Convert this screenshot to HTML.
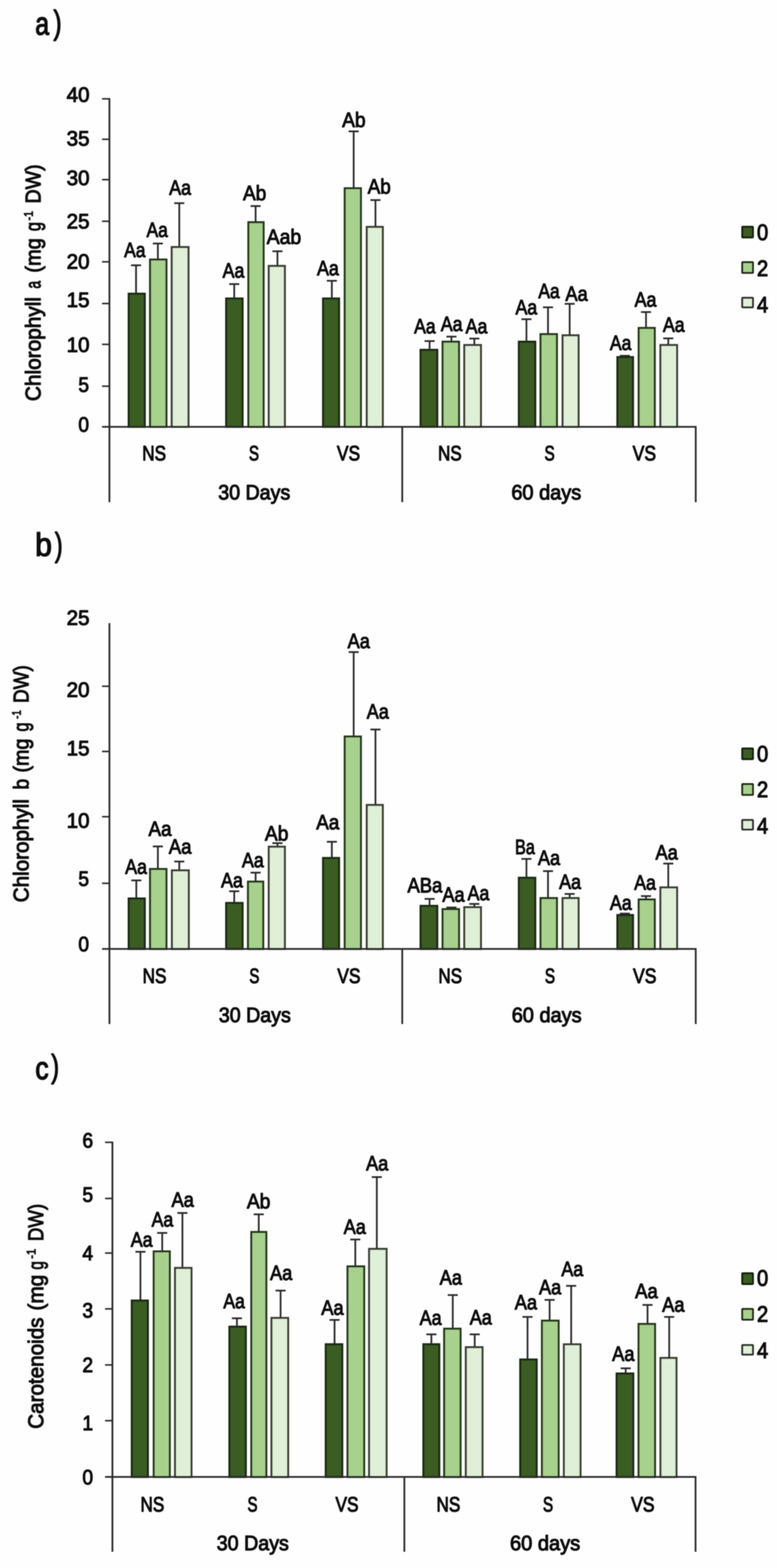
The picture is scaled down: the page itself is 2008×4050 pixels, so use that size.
<!DOCTYPE html>
<html lang="en">
<head>
<meta charset="utf-8">
<title>Chlorophyll a, chlorophyll b and carotenoids</title>
<style>
html,body{margin:0;padding:0;background:#fff;}
body{width:2008px;height:4050px;overflow:hidden;}
svg{display:block;}
text{font-family:"Liberation Sans",sans-serif;fill:#0c0c0c;stroke:#0c0c0c;stroke-width:2.4px;stroke-linejoin:round;}
text.t{stroke-width:3.2px;}
text.y,text.k{stroke-width:2.5px;}
tspan.s{stroke-width:2px;}
</style>
</head>
<body>
<svg width="2008" height="4050" viewBox="0 0 2008 4050">
<defs><filter id="soft" x="0" y="0" width="2008" height="4050" filterUnits="userSpaceOnUse"><feGaussianBlur stdDeviation="0.9"/></filter></defs>
<rect width="2008" height="4050" fill="#fefefe"/>
<g filter="url(#soft)">
<g id="chart-a">
<text class="t"><tspan x="91.3" y="88.5" font-size="82.2" textLength="35.6" lengthAdjust="spacingAndGlyphs">a</tspan><tspan x="138.3" y="86.8" font-size="84.5" textLength="20.8" lengthAdjust="spacingAndGlyphs">)</tspan></text>
<rect x="332.6" y="758.6" width="41.5" height="343.9" fill="#3b5b24" stroke="#1c2a13" stroke-width="5.3"/>
<rect x="387.8" y="670.4" width="42.3" height="432.1" fill="#a7d18d" stroke="#27381d" stroke-width="5.3"/>
<rect x="443.8" y="638.2" width="43.3" height="464.2" fill="#e0efd7" stroke="#3a4136" stroke-width="5.3"/>
<rect x="584.5" y="771.0" width="42.4" height="331.5" fill="#3b5b24" stroke="#1c2a13" stroke-width="5.3"/>
<rect x="641.9" y="574.0" width="39.3" height="528.5" fill="#a7d18d" stroke="#27381d" stroke-width="5.3"/>
<rect x="694.6" y="686.9" width="41.5" height="415.6" fill="#e0efd7" stroke="#3a4136" stroke-width="5.3"/>
<rect x="834.9" y="771.0" width="41.3" height="331.5" fill="#3b5b24" stroke="#1c2a13" stroke-width="5.3"/>
<rect x="890.9" y="486.3" width="41.7" height="616.1" fill="#a7d18d" stroke="#27381d" stroke-width="5.3"/>
<rect x="947.9" y="586.1" width="41.3" height="516.4" fill="#e0efd7" stroke="#3a4136" stroke-width="5.3"/>
<rect x="1086.9" y="903.6" width="43.1" height="198.8" fill="#3b5b24" stroke="#1c2a13" stroke-width="5.3"/>
<rect x="1143.8" y="882.6" width="42.4" height="219.8" fill="#a7d18d" stroke="#27381d" stroke-width="5.3"/>
<rect x="1199.9" y="891.2" width="42.9" height="211.2" fill="#e0efd7" stroke="#3a4136" stroke-width="5.3"/>
<rect x="1340.9" y="882.6" width="42.3" height="219.8" fill="#3b5b24" stroke="#1c2a13" stroke-width="5.3"/>
<rect x="1396.9" y="863.1" width="42.3" height="239.3" fill="#a7d18d" stroke="#27381d" stroke-width="5.3"/>
<rect x="1453.9" y="866.1" width="41.3" height="236.3" fill="#e0efd7" stroke="#3a4136" stroke-width="5.3"/>
<rect x="1595.5" y="922.4" width="40.4" height="180.1" fill="#3b5b24" stroke="#1c2a13" stroke-width="5.3"/>
<rect x="1650.6" y="847.1" width="41.4" height="255.3" fill="#a7d18d" stroke="#27381d" stroke-width="5.3"/>
<rect x="1706.7" y="891.2" width="43.0" height="211.2" fill="#e0efd7" stroke="#3a4136" stroke-width="5.3"/>
<path d="M351.6 757V685.2M338.6 685.2H364.6M408 668.7V629M395 629H421M463.3 636.6V524.8M450.3 524.8H476.3M605.3 769.4V733.8M592.3 733.8H618.3M660.6 572.4V532.3M647.6 532.3H673.6M717 685.2V649M704 649H730M857.6 769.4V725.3M844.6 725.3H870.6M914 484.7V339.3M901 339.3H927M970.3 584.5V516.8M957.3 516.8H983.3M1110.2 902V881M1097.2 881H1123.2M1166.6 881V869.5M1153.6 869.5H1179.6M1225.8 889.6V874.5M1212.8 874.5H1238.8M1360.5 881V824.4M1347.5 824.4H1373.5M1416.2 861.5V793.8M1403.2 793.8H1429.2M1472.2 864.5V784.8M1459.2 784.8H1485.2M1601.7 919H1627.7M1669.5 845.5V805.9M1656.5 805.9H1682.5M1727 889.6V874M1714 874H1740" fill="none" stroke="#2b2b2b" stroke-width="4.5"/>
<path d="M282.8 253.5V1297M1039.5 1102.5V1297M1798 1102.5V1297M263.8 1102.5H1800" fill="none" stroke="#2b2b2b" stroke-width="4.6"/>
<path d="M263.8 255.2H282.8M263.8 359.8H282.8M263.8 463.9H282.8M263.8 571.6H282.8M263.8 676.3H282.8M263.8 784H282.8M263.8 889.4H282.8M263.8 997.5H282.8" fill="none" stroke="#2b2b2b" stroke-width="4.0"/>
<text x="231.2" y="262.8" font-size="54.5" text-anchor="end" textLength="59.0" lengthAdjust="spacingAndGlyphs" class="k">40</text>
<text x="231.2" y="375.6" font-size="54.5" text-anchor="end" textLength="59.0" lengthAdjust="spacingAndGlyphs" class="k">35</text>
<text x="231.2" y="477.9" font-size="54.5" text-anchor="end" textLength="59.0" lengthAdjust="spacingAndGlyphs" class="k">30</text>
<text x="231.2" y="589.7" font-size="54.5" text-anchor="end" textLength="59.0" lengthAdjust="spacingAndGlyphs" class="k">25</text>
<text x="231.2" y="694.2" font-size="54.5" text-anchor="end" textLength="59.0" lengthAdjust="spacingAndGlyphs" class="k">20</text>
<text x="231.2" y="793.2" font-size="54.5" text-anchor="end" textLength="59.0" lengthAdjust="spacingAndGlyphs" class="k">15</text>
<text x="231.2" y="908.5" font-size="54.5" text-anchor="end" textLength="59.0" lengthAdjust="spacingAndGlyphs" class="k">10</text>
<text x="230.1" y="1011.9" font-size="54.5" text-anchor="end" textLength="27.5" lengthAdjust="spacingAndGlyphs" class="k">5</text>
<text x="230.1" y="1114.5" font-size="54.5" text-anchor="end" textLength="27.5" lengthAdjust="spacingAndGlyphs" class="k">0</text>
<text x="321.1" y="664.3" font-size="54.5" textLength="54.7" lengthAdjust="spacingAndGlyphs">Aa</text>
<text x="378.8" y="612.3" font-size="54.5" textLength="55.0" lengthAdjust="spacingAndGlyphs">Aa</text>
<text x="437.3" y="503.3" font-size="54.5" textLength="56.5" lengthAdjust="spacingAndGlyphs">Aa</text>
<text x="575.3" y="716.6" font-size="54.5" textLength="56.2" lengthAdjust="spacingAndGlyphs">Aa</text>
<text x="628.0" y="517.1" font-size="54.5" textLength="60.1" lengthAdjust="spacingAndGlyphs">Ab</text>
<text x="689.3" y="630.3" font-size="54.5" textLength="89.0" lengthAdjust="spacingAndGlyphs">Aab</text>
<text x="819.3" y="711.3" font-size="54.5" textLength="56.5" lengthAdjust="spacingAndGlyphs">Aa</text>
<text x="884.3" y="328.1" font-size="54.5" textLength="60.5" lengthAdjust="spacingAndGlyphs">Ab</text>
<text x="950.3" y="500.0" font-size="54.5" textLength="59.5" lengthAdjust="spacingAndGlyphs">Ab</text>
<text x="1070.3" y="860.8" font-size="54.5" textLength="55.5" lengthAdjust="spacingAndGlyphs">Aa</text>
<text x="1139.3" y="854.8" font-size="54.5" textLength="56.0" lengthAdjust="spacingAndGlyphs">Aa</text>
<text x="1203.3" y="860.8" font-size="54.5" textLength="56.2" lengthAdjust="spacingAndGlyphs">Aa</text>
<text x="1332.3" y="811.7" font-size="54.5" textLength="56.0" lengthAdjust="spacingAndGlyphs">Aa</text>
<text x="1391.3" y="770.3" font-size="54.5" textLength="55.1" lengthAdjust="spacingAndGlyphs">Aa</text>
<text x="1461.3" y="776.6" font-size="54.5" textLength="57.5" lengthAdjust="spacingAndGlyphs">Aa</text>
<text x="1576.3" y="904.3" font-size="54.5" textLength="55.2" lengthAdjust="spacingAndGlyphs">Aa</text>
<text x="1640.0" y="791.6" font-size="54.5" textLength="56.6" lengthAdjust="spacingAndGlyphs">Aa</text>
<text x="1713.2" y="857.3" font-size="54.5" textLength="56.1" lengthAdjust="spacingAndGlyphs">Aa</text>
<text x="367.4" y="1189.0" font-size="54.5" textLength="61.7" lengthAdjust="spacingAndGlyphs" class="k">NS</text>
<text x="643.2" y="1189.0" font-size="54.5" textLength="26.1" lengthAdjust="spacingAndGlyphs" class="k">S</text>
<text x="870.8" y="1189.0" font-size="54.5" textLength="59.7" lengthAdjust="spacingAndGlyphs" class="k">VS</text>
<text x="1132" y="1189.0" font-size="54.5" textLength="61.1" lengthAdjust="spacingAndGlyphs" class="k">NS</text>
<text x="1407" y="1189.0" font-size="54.5" textLength="26.5" lengthAdjust="spacingAndGlyphs" class="k">S</text>
<text x="1635" y="1189.0" font-size="54.5" textLength="60.3" lengthAdjust="spacingAndGlyphs" class="k">VS</text>
<text x="564" y="1289.5" font-size="54.5" textLength="186.0" lengthAdjust="spacingAndGlyphs" class="k">30 Days</text>
<text x="1321.4" y="1289.5" font-size="54.5" textLength="180.8" lengthAdjust="spacingAndGlyphs" class="k">60 days</text>
<text transform="translate(104.5 0) rotate(-90)" font-size="56" class="y"><tspan x="-1036" y="0" textLength="268.8" lengthAdjust="spacingAndGlyphs">Chlorophyll</tspan> <tspan x="-745.5" y="0" textLength="19.9" lengthAdjust="spacingAndGlyphs">a</tspan> <tspan x="-704.3" y="0" textLength="88.9" lengthAdjust="spacingAndGlyphs">(mg</tspan> <tspan x="-596.9" y="0" textLength="23.5" lengthAdjust="spacingAndGlyphs">g</tspan><tspan x="-569.5" y="-20" font-size="32" textLength="24.4" lengthAdjust="spacingAndGlyphs" class="s">-1</tspan> <tspan x="-525.5" y="0" textLength="100.7" lengthAdjust="spacingAndGlyphs">DW)</tspan></text>
<rect x="1918.2" y="585.7" width="27.6" height="27.6" rx="1.5" fill="#3b5b24" stroke="#17230f" stroke-width="5"/>
<text x="1956.2" y="619.8" font-size="56.5" textLength="29" lengthAdjust="spacingAndGlyphs" class="k">0</text>
<rect x="1918.2" y="677.2" width="27.6" height="27.6" rx="1.5" fill="#a7d18d" stroke="#202c18" stroke-width="5"/>
<text x="1956.2" y="713.2" font-size="56.5" textLength="29" lengthAdjust="spacingAndGlyphs" class="k">2</text>
<rect x="1918.2" y="769.3" width="27.6" height="24.5" rx="1.5" fill="#e0efd7" stroke="#2c3029" stroke-width="5"/>
<text x="1956.2" y="807.2" font-size="56.5" textLength="29" lengthAdjust="spacingAndGlyphs" class="k">4</text>
</g>
<g id="chart-b">
<text class="t"><tspan x="91.1" y="1436.1" font-size="83.4" textLength="43.1" lengthAdjust="spacingAndGlyphs">b</tspan><tspan x="141.8" y="1435.6" font-size="84.5" textLength="20.0" lengthAdjust="spacingAndGlyphs">)</tspan></text>
<rect x="332.6" y="2320.7" width="41.5" height="130.3" fill="#3b5b24" stroke="#1c2a13" stroke-width="5.3"/>
<rect x="387.8" y="2244.6" width="42.3" height="206.4" fill="#a7d18d" stroke="#27381d" stroke-width="5.3"/>
<rect x="444.4" y="2248.1" width="43.4" height="202.9" fill="#e0efd7" stroke="#3a4136" stroke-width="5.3"/>
<rect x="584.5" y="2332.3" width="42.4" height="118.7" fill="#3b5b24" stroke="#1c2a13" stroke-width="5.3"/>
<rect x="640.9" y="2277.2" width="39.3" height="173.8" fill="#a7d18d" stroke="#27381d" stroke-width="5.3"/>
<rect x="694.6" y="2187.0" width="41.5" height="264.0" fill="#e0efd7" stroke="#3a4136" stroke-width="5.3"/>
<rect x="834.9" y="2216.1" width="41.3" height="234.9" fill="#3b5b24" stroke="#1c2a13" stroke-width="5.3"/>
<rect x="890.9" y="1902.4" width="41.7" height="548.6" fill="#a7d18d" stroke="#27381d" stroke-width="5.3"/>
<rect x="947.9" y="2079.2" width="41.3" height="371.9" fill="#e0efd7" stroke="#3a4136" stroke-width="5.3"/>
<rect x="1086.9" y="2339.8" width="43.1" height="111.2" fill="#3b5b24" stroke="#1c2a13" stroke-width="5.3"/>
<rect x="1143.8" y="2348.3" width="42.4" height="102.7" fill="#a7d18d" stroke="#27381d" stroke-width="5.3"/>
<rect x="1199.9" y="2343.3" width="42.9" height="107.7" fill="#e0efd7" stroke="#3a4136" stroke-width="5.3"/>
<rect x="1340.9" y="2267.2" width="42.3" height="183.8" fill="#3b5b24" stroke="#1c2a13" stroke-width="5.3"/>
<rect x="1396.9" y="2319.7" width="42.3" height="131.3" fill="#a7d18d" stroke="#27381d" stroke-width="5.3"/>
<rect x="1453.9" y="2319.7" width="41.3" height="131.3" fill="#e0efd7" stroke="#3a4136" stroke-width="5.3"/>
<rect x="1595.5" y="2363.5" width="40.4" height="87.5" fill="#3b5b24" stroke="#1c2a13" stroke-width="5.3"/>
<rect x="1650.6" y="2323.3" width="41.4" height="127.7" fill="#a7d18d" stroke="#27381d" stroke-width="5.3"/>
<rect x="1706.7" y="2292.2" width="43.0" height="158.8" fill="#e0efd7" stroke="#3a4136" stroke-width="5.3"/>
<path d="M352.3 2319V2274M339.3 2274H365.3M408 2242.9V2186.2M395 2186.2H421M463.3 2246.4V2225.3M450.3 2225.3H476.3M605.3 2330.7V2302M592.3 2302H618.3M660.6 2275.5V2254M647.6 2254H673.6M717 2185.3V2177.8M704 2177.8H730M857.6 2214.4V2174.3M844.6 2174.3H870.6M914 1900.7V1684.2M901 1684.2H927M970.3 2077.5V1884.2M957.3 1884.2H983.3M1110.2 2338.2V2321.7M1097.2 2321.7H1123.2M1153.6 2344H1179.6M1225.8 2341.7V2334.7M1212.8 2334.7H1238.8M1360.5 2265.5V2218.4M1347.5 2218.4H1373.5M1416.2 2318V2250M1403.2 2250H1429.2M1472.2 2318V2309M1459.2 2309H1485.2M1601.7 2359.7H1627.7M1669.5 2321.7V2314.6M1656.5 2314.6H1682.5M1727 2290.6V2230.4M1714 2230.4H1740" fill="none" stroke="#2b2b2b" stroke-width="4.5"/>
<path d="M282.8 1609.5V2645M1039.5 2451V2645M1798 2451V2645M263.8 2451H1800" fill="none" stroke="#2b2b2b" stroke-width="4.6"/>
<path d="M263.8 1772.4H282.8M263.8 1941H282.8M263.8 2109.5H282.8M263.8 2281.6H282.8" fill="none" stroke="#2b2b2b" stroke-width="4.0"/>
<text x="231.2" y="1613.7" font-size="54.5" text-anchor="end" textLength="59.0" lengthAdjust="spacingAndGlyphs" class="k">25</text>
<text x="231.2" y="1800.2" font-size="54.5" text-anchor="end" textLength="59.0" lengthAdjust="spacingAndGlyphs" class="k">20</text>
<text x="231.2" y="1950.6" font-size="54.5" text-anchor="end" textLength="59.0" lengthAdjust="spacingAndGlyphs" class="k">15</text>
<text x="231.2" y="2137.9" font-size="54.5" text-anchor="end" textLength="59.0" lengthAdjust="spacingAndGlyphs" class="k">10</text>
<text x="230.1" y="2287.5" font-size="54.5" text-anchor="end" textLength="27.5" lengthAdjust="spacingAndGlyphs" class="k">5</text>
<text x="230.1" y="2456.6" font-size="54.5" text-anchor="end" textLength="27.5" lengthAdjust="spacingAndGlyphs" class="k">0</text>
<text x="323.6" y="2256.7" font-size="54.5" textLength="56.2" lengthAdjust="spacingAndGlyphs">Aa</text>
<text x="383.8" y="2159.3" font-size="54.5" textLength="59.6" lengthAdjust="spacingAndGlyphs">Aa</text>
<text x="436.3" y="2204.6" font-size="54.5" textLength="58.5" lengthAdjust="spacingAndGlyphs">Aa</text>
<text x="571.3" y="2291.9" font-size="54.5" textLength="56.5" lengthAdjust="spacingAndGlyphs">Aa</text>
<text x="625.3" y="2239.7" font-size="54.5" textLength="56.5" lengthAdjust="spacingAndGlyphs">Aa</text>
<text x="684.6" y="2170.6" font-size="54.5" textLength="60.7" lengthAdjust="spacingAndGlyphs">Ab</text>
<text x="817.3" y="2142.0" font-size="54.5" textLength="59.5" lengthAdjust="spacingAndGlyphs">Aa</text>
<text x="898.3" y="1674.3" font-size="54.5" textLength="57.5" lengthAdjust="spacingAndGlyphs">Aa</text>
<text x="947.8" y="1855.9" font-size="54.5" textLength="57.0" lengthAdjust="spacingAndGlyphs">Aa</text>
<text x="1052.9" y="2304.9" font-size="54.5" textLength="90.3" lengthAdjust="spacingAndGlyphs">ABa</text>
<text x="1143.2" y="2328.5" font-size="54.5" textLength="57.6" lengthAdjust="spacingAndGlyphs">Aa</text>
<text x="1208.3" y="2325.0" font-size="54.5" textLength="56.2" lengthAdjust="spacingAndGlyphs">Aa</text>
<text x="1331.1" y="2205.7" font-size="54.5" textLength="51.2" lengthAdjust="spacingAndGlyphs">Ba</text>
<text x="1390.3" y="2234.3" font-size="54.5" textLength="57.1" lengthAdjust="spacingAndGlyphs">Aa</text>
<text x="1444.9" y="2295.9" font-size="54.5" textLength="56.7" lengthAdjust="spacingAndGlyphs">Aa</text>
<text x="1576.3" y="2350.0" font-size="54.5" textLength="56.2" lengthAdjust="spacingAndGlyphs">Aa</text>
<text x="1639.0" y="2298.3" font-size="54.5" textLength="56.1" lengthAdjust="spacingAndGlyphs">Aa</text>
<text x="1694.1" y="2219.7" font-size="54.5" textLength="57.7" lengthAdjust="spacingAndGlyphs">Aa</text>
<text x="368.4" y="2538.5" font-size="54.5" textLength="61.7" lengthAdjust="spacingAndGlyphs" class="k">NS</text>
<text x="644.2" y="2538.5" font-size="54.5" textLength="26.1" lengthAdjust="spacingAndGlyphs" class="k">S</text>
<text x="871.8" y="2538.5" font-size="54.5" textLength="59.7" lengthAdjust="spacingAndGlyphs" class="k">VS</text>
<text x="1133" y="2538.5" font-size="54.5" textLength="61.1" lengthAdjust="spacingAndGlyphs" class="k">NS</text>
<text x="1408" y="2538.5" font-size="54.5" textLength="26.5" lengthAdjust="spacingAndGlyphs" class="k">S</text>
<text x="1636" y="2538.5" font-size="54.5" textLength="60.3" lengthAdjust="spacingAndGlyphs" class="k">VS</text>
<text x="565.5" y="2639.5" font-size="54.5" textLength="186.0" lengthAdjust="spacingAndGlyphs" class="k">30 Days</text>
<text x="1322.4" y="2639.5" font-size="54.5" textLength="180.8" lengthAdjust="spacingAndGlyphs" class="k">60 days</text>
<text transform="translate(73.5 0) rotate(-90)" font-size="56" class="y"><tspan x="-2330.5" y="0" textLength="266.5" lengthAdjust="spacingAndGlyphs">Chlorophyll</tspan> <tspan x="-2039.3" y="0" textLength="27.4" lengthAdjust="spacingAndGlyphs">b</tspan> <tspan x="-1995.3" y="0" textLength="87.5" lengthAdjust="spacingAndGlyphs">(mg</tspan> <tspan x="-1889.5" y="0" textLength="23.4" lengthAdjust="spacingAndGlyphs">g</tspan><tspan x="-1856.7" y="-20" font-size="32" textLength="22.4" lengthAdjust="spacingAndGlyphs" class="s">-1</tspan> <tspan x="-1815.7" y="0" textLength="97.4" lengthAdjust="spacingAndGlyphs">DW)</tspan></text>
<rect x="1918.2" y="1933.2" width="27.6" height="27.6" rx="1.5" fill="#3b5b24" stroke="#17230f" stroke-width="5"/>
<text x="1956.2" y="1967.3" font-size="56.5" textLength="29" lengthAdjust="spacingAndGlyphs" class="k">0</text>
<rect x="1918.2" y="2025.3" width="27.6" height="27.6" rx="1.5" fill="#a7d18d" stroke="#202c18" stroke-width="5"/>
<text x="1956.2" y="2059.4" font-size="56.5" textLength="29" lengthAdjust="spacingAndGlyphs" class="k">2</text>
<rect x="1918.2" y="2118.1" width="27.6" height="24.4" rx="1.5" fill="#e0efd7" stroke="#2c3029" stroke-width="5"/>
<text x="1956.2" y="2152.8" font-size="56.5" textLength="29" lengthAdjust="spacingAndGlyphs" class="k">4</text>
</g>
<g id="chart-c">
<text class="t"><tspan x="91.2" y="2786.7" font-size="82.2" textLength="34.3" lengthAdjust="spacingAndGlyphs">c</tspan><tspan x="132.4" y="2783.0" font-size="83.3" textLength="20.0" lengthAdjust="spacingAndGlyphs">)</tspan></text>
<rect x="340.6" y="3359.2" width="41.5" height="455.7" fill="#3b5b24" stroke="#1c2a13" stroke-width="5.3"/>
<rect x="397.3" y="3232.3" width="41.4" height="582.5" fill="#a7d18d" stroke="#27381d" stroke-width="5.3"/>
<rect x="452.4" y="3275.0" width="42.4" height="539.9" fill="#e0efd7" stroke="#3a4136" stroke-width="5.3"/>
<rect x="592.9" y="3426.7" width="42.3" height="388.2" fill="#3b5b24" stroke="#1c2a13" stroke-width="5.3"/>
<rect x="649.5" y="3182.2" width="38.7" height="632.7" fill="#a7d18d" stroke="#27381d" stroke-width="5.3"/>
<rect x="701.6" y="3404.2" width="43.0" height="410.7" fill="#e0efd7" stroke="#3a4136" stroke-width="5.3"/>
<rect x="841.9" y="3472.1" width="42.6" height="342.8" fill="#3b5b24" stroke="#1c2a13" stroke-width="5.3"/>
<rect x="898.1" y="3271.0" width="43.0" height="543.9" fill="#a7d18d" stroke="#27381d" stroke-width="5.3"/>
<rect x="953.9" y="3225.8" width="45.1" height="589.0" fill="#e0efd7" stroke="#3a4136" stroke-width="5.3"/>
<rect x="1094.2" y="3472.1" width="41.0" height="342.8" fill="#3b5b24" stroke="#1c2a13" stroke-width="5.3"/>
<rect x="1147.9" y="3432.0" width="42.3" height="382.9" fill="#a7d18d" stroke="#27381d" stroke-width="5.3"/>
<rect x="1203.9" y="3479.7" width="43.0" height="335.2" fill="#e0efd7" stroke="#3a4136" stroke-width="5.3"/>
<rect x="1344.5" y="3511.5" width="42.4" height="303.4" fill="#3b5b24" stroke="#1c2a13" stroke-width="5.3"/>
<rect x="1400.6" y="3411.2" width="43.0" height="403.7" fill="#a7d18d" stroke="#27381d" stroke-width="5.3"/>
<rect x="1457.3" y="3472.3" width="42.9" height="342.5" fill="#e0efd7" stroke="#3a4136" stroke-width="5.3"/>
<rect x="1593.6" y="3547.6" width="42.9" height="267.3" fill="#3b5b24" stroke="#1c2a13" stroke-width="5.3"/>
<rect x="1650.3" y="3419.7" width="42.4" height="395.2" fill="#a7d18d" stroke="#27381d" stroke-width="5.3"/>
<rect x="1706.9" y="3507.5" width="41.3" height="307.4" fill="#e0efd7" stroke="#3a4136" stroke-width="5.3"/>
<path d="M362.9 3357.5V3233.2M349.9 3233.2H375.9M419.2 3230.7V3184.6M406.2 3184.6H432.2M471.4 3273.3V3133M458.4 3133H484.4M612.3 3425V3405M599.3 3405H625.3M668.7 3180.5V3136.4M655.7 3136.4H681.7M725.1 3402.5V3333.4M712.1 3333.4H738.1M864.6 3470.4V3409.3M851.6 3409.3H877.6M918.2 3269.3V3201.6M905.2 3201.6H931.2M973.8 3224.2V3040.2M960.8 3040.2H986.8M1114.8 3470.4V3446.4M1101.8 3446.4H1127.8M1170.1 3430.3V3345M1157.1 3345H1183.1M1226.8 3478V3446.4M1213.8 3446.4H1239.8M1363.3 3509.8V3401.5M1350.3 3401.5H1376.3M1420.4 3409.5V3357.4M1407.4 3357.4H1433.4M1476.1 3470.7V3321.3M1463.1 3321.3H1489.1M1617 3545.9V3534.3M1604 3534.3H1630M1673.4 3418V3370.4M1660.4 3370.4H1686.4M1729.4 3505.8V3401.5M1716.4 3401.5H1742.4" fill="none" stroke="#2b2b2b" stroke-width="4.5"/>
<path d="M290.5 2948.8V4008M1045 3814.8V4008M1797.5 3814.8V4008M271.5 3814.8H1799.5" fill="none" stroke="#2b2b2b" stroke-width="4.6"/>
<path d="M271.5 2950.6H290.5M271.5 3095.6H290.5M271.5 3236.4H290.5M271.5 3380.8H290.5M271.5 3525.5H290.5M271.5 3669.6H290.5" fill="none" stroke="#2b2b2b" stroke-width="4.0"/>
<text x="240.6" y="2963.8" font-size="54.5" text-anchor="end" textLength="27.5" lengthAdjust="spacingAndGlyphs" class="k">6</text>
<text x="240.6" y="3103.6" font-size="54.5" text-anchor="end" textLength="27.5" lengthAdjust="spacingAndGlyphs" class="k">5</text>
<text x="240.6" y="3254.6" font-size="54.5" text-anchor="end" textLength="27.5" lengthAdjust="spacingAndGlyphs" class="k">4</text>
<text x="240.6" y="3403.3" font-size="54.5" text-anchor="end" textLength="27.5" lengthAdjust="spacingAndGlyphs" class="k">3</text>
<text x="240.6" y="3544.2" font-size="54.5" text-anchor="end" textLength="27.5" lengthAdjust="spacingAndGlyphs" class="k">2</text>
<text x="240.6" y="3694.1" font-size="54.5" text-anchor="end" textLength="27.5" lengthAdjust="spacingAndGlyphs" class="k">1</text>
<text x="240.6" y="3834.4" font-size="54.5" text-anchor="end" textLength="27.5" lengthAdjust="spacingAndGlyphs" class="k">0</text>
<text x="338.1" y="3219.9" font-size="54.5" textLength="56.2" lengthAdjust="spacingAndGlyphs">Aa</text>
<text x="391.8" y="3168.3" font-size="54.5" textLength="56.0" lengthAdjust="spacingAndGlyphs">Aa</text>
<text x="443.3" y="3116.7" font-size="54.5" textLength="57.8" lengthAdjust="spacingAndGlyphs">Aa</text>
<text x="577.3" y="3378.8" font-size="54.5" textLength="55.5" lengthAdjust="spacingAndGlyphs">Aa</text>
<text x="637.9" y="3120.7" font-size="54.5" textLength="60.9" lengthAdjust="spacingAndGlyphs">Ab</text>
<text x="698.0" y="3306.2" font-size="54.5" textLength="57.2" lengthAdjust="spacingAndGlyphs">Aa</text>
<text x="830.3" y="3395.5" font-size="54.5" textLength="57.8" lengthAdjust="spacingAndGlyphs">Aa</text>
<text x="888.3" y="3186.9" font-size="54.5" textLength="57.1" lengthAdjust="spacingAndGlyphs">Aa</text>
<text x="945.9" y="3023.0" font-size="54.5" textLength="57.7" lengthAdjust="spacingAndGlyphs">Aa</text>
<text x="1084.6" y="3422.1" font-size="54.5" textLength="56.7" lengthAdjust="spacingAndGlyphs">Aa</text>
<text x="1136.3" y="3317.8" font-size="54.5" textLength="57.5" lengthAdjust="spacingAndGlyphs">Aa</text>
<text x="1213.9" y="3420.6" font-size="54.5" textLength="57.2" lengthAdjust="spacingAndGlyphs">Aa</text>
<text x="1330.3" y="3381.8" font-size="54.5" textLength="57.7" lengthAdjust="spacingAndGlyphs">Aa</text>
<text x="1393.0" y="3343.2" font-size="54.5" textLength="57.2" lengthAdjust="spacingAndGlyphs">Aa</text>
<text x="1450.7" y="3295.5" font-size="54.5" textLength="56.6" lengthAdjust="spacingAndGlyphs">Aa</text>
<text x="1582.0" y="3515.1" font-size="54.5" textLength="57.7" lengthAdjust="spacingAndGlyphs">Aa</text>
<text x="1641.2" y="3353.2" font-size="54.5" textLength="58.6" lengthAdjust="spacingAndGlyphs">Aa</text>
<text x="1711.3" y="3388.3" font-size="54.5" textLength="57.7" lengthAdjust="spacingAndGlyphs">Aa</text>
<text x="363" y="3904.0" font-size="54.5" textLength="61.5" lengthAdjust="spacingAndGlyphs" class="k">NS</text>
<text x="639.5" y="3904.0" font-size="54.5" textLength="26.0" lengthAdjust="spacingAndGlyphs" class="k">S</text>
<text x="867" y="3904.0" font-size="54.5" textLength="59.5" lengthAdjust="spacingAndGlyphs" class="k">VS</text>
<text x="1128" y="3904.0" font-size="54.5" textLength="61.5" lengthAdjust="spacingAndGlyphs" class="k">NS</text>
<text x="1403" y="3904.0" font-size="54.5" textLength="26.5" lengthAdjust="spacingAndGlyphs" class="k">S</text>
<text x="1631" y="3904.0" font-size="54.5" textLength="60.5" lengthAdjust="spacingAndGlyphs" class="k">VS</text>
<text x="560" y="4004.0" font-size="54.5" textLength="186.5" lengthAdjust="spacingAndGlyphs" class="k">30 Days</text>
<text x="1318" y="4004.0" font-size="54.5" textLength="181.5" lengthAdjust="spacingAndGlyphs" class="k">60 days</text>
<text transform="translate(111.5 0) rotate(-90)" font-size="56" class="y"><tspan x="-3690.5" y="0" textLength="287.5" lengthAdjust="spacingAndGlyphs">Carotenoids</tspan> <tspan x="-3385" y="0" textLength="92.5" lengthAdjust="spacingAndGlyphs">(mg</tspan> <tspan x="-3279.2" y="0" textLength="21.8" lengthAdjust="spacingAndGlyphs">g</tspan><tspan x="-3251.2" y="-20" font-size="32" textLength="25.7" lengthAdjust="spacingAndGlyphs" class="s">-1</tspan> <tspan x="-3205.7" y="0" textLength="96.2" lengthAdjust="spacingAndGlyphs">DW)</tspan></text>
<rect x="1918.2" y="3288.8" width="27.6" height="27.6" rx="1.5" fill="#3b5b24" stroke="#17230f" stroke-width="5"/>
<text x="1956.2" y="3321" font-size="56.5" textLength="29" lengthAdjust="spacingAndGlyphs" class="k">0</text>
<rect x="1918.2" y="3380.9" width="27.6" height="27.6" rx="1.5" fill="#a7d18d" stroke="#202c18" stroke-width="5"/>
<text x="1956.2" y="3414.4" font-size="56.5" textLength="29" lengthAdjust="spacingAndGlyphs" class="k">2</text>
<rect x="1918.2" y="3474.3" width="27.6" height="24.5" rx="1.5" fill="#e0efd7" stroke="#2c3029" stroke-width="5"/>
<text x="1956.2" y="3508.4" font-size="56.5" textLength="29" lengthAdjust="spacingAndGlyphs" class="k">4</text>
</g>
</g>
</svg>
</body>
</html>
